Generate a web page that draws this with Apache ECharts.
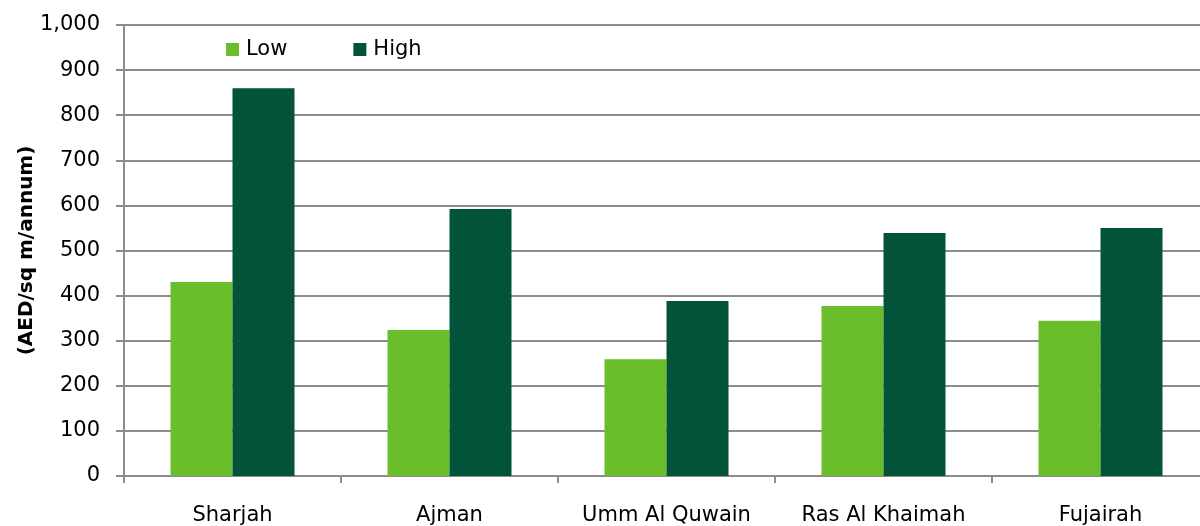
<!DOCTYPE html>
<html>
<head>
<meta charset="utf-8">
<script src="https://cdn.jsdelivr.net/npm/echarts@6/dist/echarts.min.js"></script>
<style>
  html, body { margin: 0; padding: 0; background: #fff; }
  #chart { width: 1200px; height: 526px; }
</style>
</head>
<body>
<div id="chart"></div>
<script>
const CATEGORIES = ["Sharjah", "Ajman", "Umm Al Quwain", "Ras Al Khaimah", "Fujairah"];
const LOW = [430, 324, 259, 377, 344];
const HIGH = [860, 592, 388, 539, 550];
const Y_TICKS = { min: 0, max: 1000, interval: 100 };

const FONT = "'DejaVu Sans', sans-serif";
const GRID_COLOR = "#8c8c8c";

const chart = echarts.init(document.getElementById("chart"), null, { renderer: "canvas" });

chart.setOption({
  animation: false,
  backgroundColor: "#fff",
  textStyle: { fontFamily: FONT },
  legend: {
    left: 221,
    top: 34,
    itemWidth: 13,
    itemHeight: 13,
    itemGap: 66,
    icon: "rect",
    textStyle: { fontSize: 21, color: "#000", fontFamily: FONT, padding: [0, 0, 0, 2] },
    data: ["Low", "High"]
  },
  grid: { left: 124, top: 25, bottom: 50, width: 1085, outerBoundsMode: "none" },
  xAxis: {
    type: "category",
    data: CATEGORIES,
    axisLine: { lineStyle: { color: GRID_COLOR, width: 2 } },
    axisTick: { show: true, length: 7, lineStyle: { color: GRID_COLOR, width: 2 } },
    axisLabel: { color: "#000", fontSize: 21, margin: 29, interval: 0, fontFamily: FONT }
  },
  yAxis: {
    type: "value",
    min: Y_TICKS.min,
    max: Y_TICKS.max,
    interval: Y_TICKS.interval,
    name: "(AED/sq m/annum)",
    nameLocation: "middle",
    nameGap: 87,
    nameMoveOverlap: false,
    nameRotate: 90,
    nameTextStyle: { fontSize: 20, fontWeight: "bold", color: "#000", fontFamily: FONT },
    axisLine: { show: true, lineStyle: { color: GRID_COLOR, width: 2 } },
    axisTick: { show: true, length: 8, lineStyle: { color: GRID_COLOR, width: 2 } },
    axisLabel: {
      color: "#000",
      fontSize: 21,
      margin: 24,
      fontFamily: FONT,
      formatter: (v) => v.toLocaleString("en-US")
    },
    splitLine: { lineStyle: { color: GRID_COLOR, width: 2 } }
  },
  series: [
    { name: "Low", type: "bar", data: LOW, barWidth: 62, barGap: "0%", itemStyle: { color: "#6abd2b" } },
    { name: "High", type: "bar", data: HIGH, barWidth: 62, barGap: "0%", itemStyle: { color: "#03523a" } }
  ]
});
</script>
</body>
</html>
